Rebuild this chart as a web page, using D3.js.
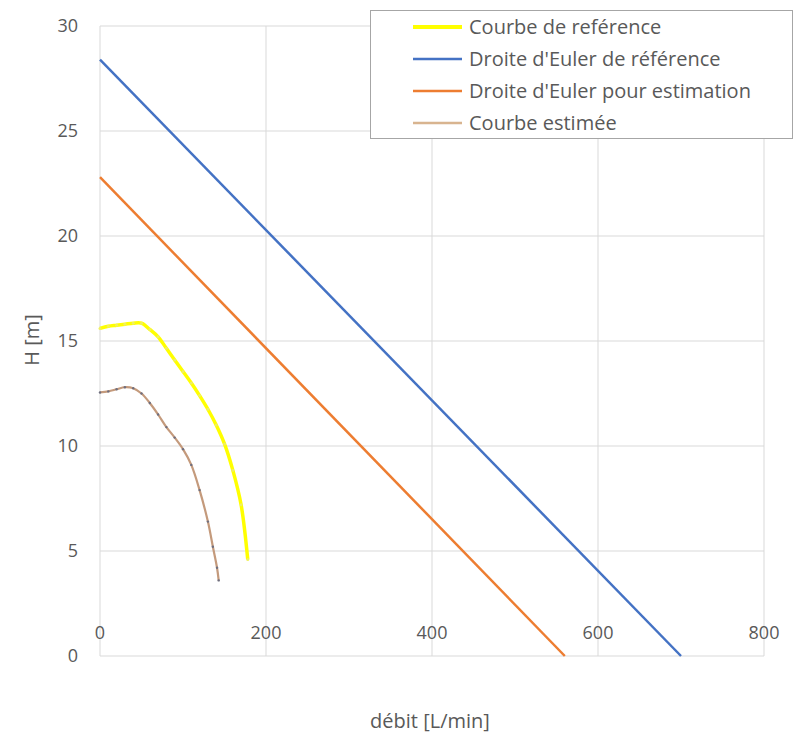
<!DOCTYPE html>
<html><head><meta charset="utf-8">
<script src="https://cdn.jsdelivr.net/npm/d3@7"></script>
<style>body{margin:0;background:#fff}svg{display:block}text{font-family:"Open Sans", sans-serif;fill:#595959}</style>
</head><body>
<svg id="c" width="798" height="738"></svg>
<script>
const xTicks = [0, 200, 400, 600, 800];
const yTicks = [0, 5, 10, 15, 20, 25, 30];
const refCurveX = [0, 10, 20, 30, 40, 50, 60, 70, 80, 90, 100, 110, 120, 130, 140, 150, 160, 170, 178];
const refCurveY = [15.6, 15.7, 15.75, 15.8, 15.85, 15.85, 15.55, 15.2, 14.65, 14.1, 13.55, 13.0, 12.4, 11.75, 11.0, 10.1, 8.85, 7.2, 4.6];
const estCurveX = [0, 10, 20, 30, 40, 50, 60, 70, 80, 90, 100, 110, 120, 130, 136, 141, 143];
const estCurveY = [12.55, 12.6, 12.7, 12.8, 12.75, 12.5, 12.05, 11.5, 10.9, 10.4, 9.85, 9.1, 7.9, 6.4, 5.2, 4.2, 3.6];
const eulerRefX = [0, 700];
const eulerRefY = [28.4, 0];
const eulerEstX = [0, 560];
const eulerEstY = [22.8, 0];
const legendLabels = ["Courbe de reférence", "Droite d'Euler de référence", "Droite d'Euler pour estimation", "Courbe estimée"];

const svg = d3.select("#c");
const x = d3.scaleLinear().domain([0, 800]).range([100, 764]);
const y = d3.scaleLinear().domain([0, 30]).range([656, 26]);

// grid
svg.append("g").selectAll("line").data(yTicks).join("line")
  .attr("x1", x(0)).attr("x2", x(800)).attr("y1", d => y(d)).attr("y2", d => y(d))
  .attr("stroke", "#d9d9d9").attr("stroke-width", 1);
svg.append("g").selectAll("line").data(xTicks).join("line")
  .attr("y1", y(0)).attr("y2", y(30)).attr("x1", d => x(d)).attr("x2", d => x(d))
  .attr("stroke", "#d9d9d9").attr("stroke-width", 1);

// tick labels
svg.append("g").selectAll("text").data(yTicks).join("text")
  .attr("x", 78).attr("y", d => y(d)).attr("dy", "0.35em").attr("text-anchor", "end")
  .attr("font-size", 18).text(d => d);
svg.append("g").selectAll("text").data(xTicks).join("text")
  .attr("x", d => x(d)).attr("y", 639).attr("text-anchor", "middle")
  .attr("font-size", 18).text(d => d);

// axis titles
svg.append("text").attr("x", 430).attr("y", 728).attr("text-anchor", "middle").attr("font-size", 20).text("débit [L/min]");
svg.append("text").attr("transform", "translate(39,340) rotate(-90)").attr("text-anchor", "middle").attr("font-size", 20).text("H [m]");

const line = d3.line().x(d => x(d[0])).y(d => y(d[1]));
const zip = (a, b) => a.map((v, i) => [v, b[i]]);

svg.append("path").datum(zip(eulerRefX, eulerRefY)).attr("d", line)
  .attr("fill", "none").attr("stroke", "#4472C4").attr("stroke-width", 2.5);
svg.append("path").datum(zip(eulerEstX, eulerEstY)).attr("d", line)
  .attr("fill", "none").attr("stroke", "#ED7D31").attr("stroke-width", 2.5);

const refData = zip(refCurveX, refCurveY);
svg.append("path").datum(refData).attr("d", d3.line().curve(d3.curveCatmullRom).x(d => x(d[0])).y(d => y(d[1])))
  .attr("fill", "none").attr("stroke", "#FFFF00").attr("stroke-width", 3.5);
svg.append("g").selectAll("circle").data(refData).join("circle")
  .attr("cx", d => x(d[0])).attr("cy", d => y(d[1])).attr("r", 1.5).attr("fill", "#f0f060");

const estData = zip(estCurveX, estCurveY);
svg.append("path").datum(estData).attr("d", d3.line().curve(d3.curveCatmullRom).x(d => x(d[0])).y(d => y(d[1])))
  .attr("fill", "none").attr("stroke", "#c49a7c").attr("stroke-width", 2.2);
svg.append("g").selectAll("circle").data(estData).join("circle")
  .attr("cx", d => x(d[0])).attr("cy", d => y(d[1])).attr("r", 1.2).attr("fill", "#6f6f7f");

// legend
const lg = svg.append("g");
lg.append("rect").attr("x", 370.5).attr("y", 10.5).attr("width", 422).attr("height", 128)
  .attr("fill", "#fff").attr("stroke", "#a6a6a6");
const legendColors = ["#FFFF00", "#4472C4", "#ED7D31", "#d8b48f"];
const legendWidths = [4, 2.5, 2.5, 2.5];
const rows = lg.selectAll("g").data(legendLabels).join("g")
  .attr("transform", (d, i) => `translate(0, ${27 + i * 32})`);
rows.append("line").attr("x1", 413).attr("x2", 462).attr("y1", 0).attr("y2", 0)
  .attr("stroke", (d, i) => legendColors[i]).attr("stroke-width", (d, i) => legendWidths[i]);
rows.append("text").attr("x", 469).attr("y", 0).attr("dy", "0.35em").attr("font-size", 20).text(d => d);
</script>
</body></html>
